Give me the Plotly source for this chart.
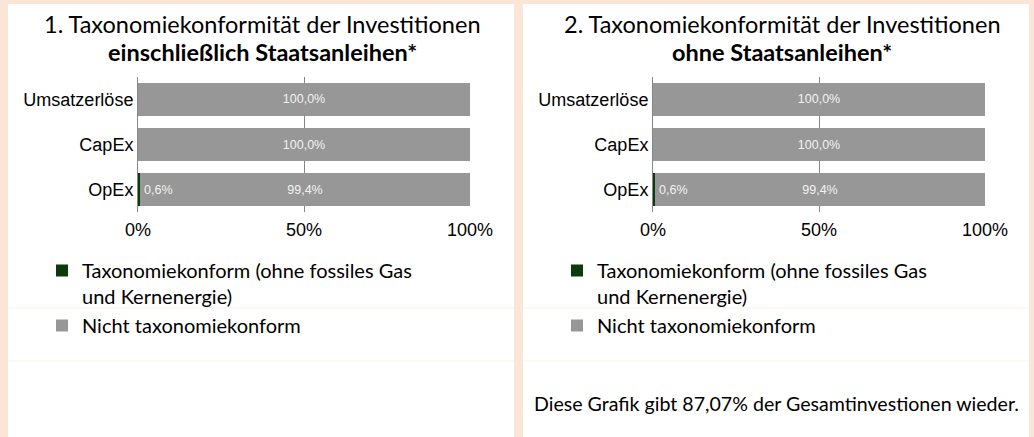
import plotly.graph_objects as go

W, H = 1034, 437

categories = ["Umsatzerlöse", "CapEx", "OpEx"]
aligned_incl = [0.0, 0.0, 0.6]
not_aligned_incl = [100.0, 100.0, 99.4]
aligned_excl = [0.0, 0.0, 0.6]
not_aligned_excl = [100.0, 100.0, 99.4]
x_ticks = [0, 50, 100]
x_tick_labels = ["0%", "50%", "100%"]
series_names = ["Taxonomiekonform (ohne fossiles Gas<br>und Kernenergie)", "Nicht taxonomiekonform"]
titles_line1 = ["1. Taxonomiekonformität der Investitionen", "2. Taxonomiekonformität der Investitionen"]
titles_line2 = ["einschließlich Staatsanleihen*", "ohne Staatsanleihen*"]
footer = "Diese Grafik gibt 87,07% der Gesamtinvestionen wieder."

GREEN = "#0b3b0b"
GRAY = "#979797"
PEACH = "#fbe5d6"
GRID = "#868686"


def px(x):
    return x / W


def py(y):
    return 1 - y / H


fig = go.Figure()

panels = [
    dict(aligned=aligned_incl, rest=not_aligned_incl, xa="x", ya="y", legend="legend"),
    dict(aligned=aligned_excl, rest=not_aligned_excl, xa="x2", ya="y2", legend="legend2"),
]

for p in panels:
    fig.add_trace(go.Bar(
        y=categories, x=p["aligned"], orientation="h", name=series_names[0],
        marker=dict(color=GREEN, line=dict(width=0)), xaxis=p["xa"], yaxis=p["ya"],
        legend=p["legend"], textposition="none", hoverinfo="skip",
    ))
    fig.add_trace(go.Bar(
        y=categories, x=p["rest"], orientation="h", name=series_names[1],
        marker=dict(color=GRAY, line=dict(width=0)), xaxis=p["xa"], yaxis=p["ya"],
        legend=p["legend"], texttemplate="%{x:.1f}%", textposition="inside",
        insidetextanchor="middle", textangle=0,
        insidetextfont=dict(family="Liberation Sans, Arial", size=12.5, color="#f2f2f2"),
        hoverinfo="skip",
    ))
    # label for small aligned segment
    for cat, v in zip(categories, p["aligned"]):
        if v > 0:
            fig.add_annotation(
                x=v, y=cat, xref=p["xa"], yref=p["ya"], text=f"{v:.1f}%".replace(".", ","),
                showarrow=False, xanchor="left", xshift=2,
                font=dict(family="Liberation Sans, Arial", size=12.5, color="#f2f2f2"),
            )

ydom = [py(212), py(77)]
xdoms = [[px(138), px(470)], [px(653), px(985)]]

axis_common_x = dict(
    range=[0, 100], tickvals=x_ticks, ticktext=x_tick_labels, showgrid=True, gridcolor=GRID, gridwidth=1,
    zeroline=False, showline=False, ticks="", fixedrange=True, ticklabelstandoff=5, automargin=False,
    tickfont=dict(family="Liberation Sans, Arial", size=18, color="#000"),
)
axis_common_y = dict(
    autorange="reversed", showline=True, linecolor=GRID, linewidth=1, ticks="", showgrid=False,
    tickfont=dict(family="Liberation Sans, Arial", size=18, color="#000"), fixedrange=True,
    ticklabelstandoff=0, automargin=False,
)

legend_common = dict(xanchor="left", yanchor="top", valign="top", traceorder="normal",
                     bgcolor="rgba(0,0,0,0)", font=dict(family="Lato", size=20, color="#000"),
                     tracegroupgap=0, itemclick=False, itemdoubleclick=False)

fig.update_layout(
    width=W, height=H, margin=dict(l=0, r=0, t=0, b=0, autoexpand=False),
    paper_bgcolor=PEACH, plot_bgcolor="rgba(0,0,0,0)",
    barmode="stack", bargap=0.27, separators=",.",
    xaxis=dict(domain=xdoms[0], anchor="y", **axis_common_x),
    yaxis=dict(domain=ydom, anchor="x", **axis_common_y),
    xaxis2=dict(domain=xdoms[1], anchor="y2", **axis_common_x),
    yaxis2=dict(domain=ydom, anchor="x2", **axis_common_y),
    legend=dict(x=px(42), y=py(251), **legend_common),
    legend2=dict(x=px(557), y=py(251), **legend_common),
    showlegend=True,
)

# white panels and faint separator lines
for x0, x1 in [(8, 514), (523, 1029)]:
    fig.add_shape(type="rect", xref="paper", yref="paper", x0=px(x0), x1=px(x1), y0=0, y1=py(4),
                  fillcolor="white", line=dict(width=0), layer="below")
    for yy in [308, 361]:
        fig.add_shape(type="line", xref="paper", yref="paper", x0=px(x0), x1=px(x1), y0=py(yy), y1=py(yy),
                      line=dict(color="#fdf1e8", width=1), layer="below")

# titles
for cx, t1, t2 in zip([262, 782], titles_line1, titles_line2):
    fig.add_annotation(x=px(cx), y=py(24), xref="paper", yref="paper", text=t1, showarrow=False,
                       xanchor="center", yanchor="middle", font=dict(family="Lato", size=23.5, color="#000"))
    fig.add_annotation(x=px(cx), y=py(52), xref="paper", yref="paper", text=f"<b>{t2}</b>", showarrow=False,
                       xanchor="center", yanchor="middle", font=dict(family="Lato", size=23.5, color="#000"))

fig.add_annotation(x=px(532), y=py(403), xref="paper", yref="paper", text=footer, showarrow=False,
                   xanchor="left", yanchor="middle", font=dict(family="Lato", size=19.6, color="#000"))

fig.write_html("out.html", config={"displayModeBar": False},
               post_script="document.body.style.margin='0';document.body.style.overflow='hidden';")
